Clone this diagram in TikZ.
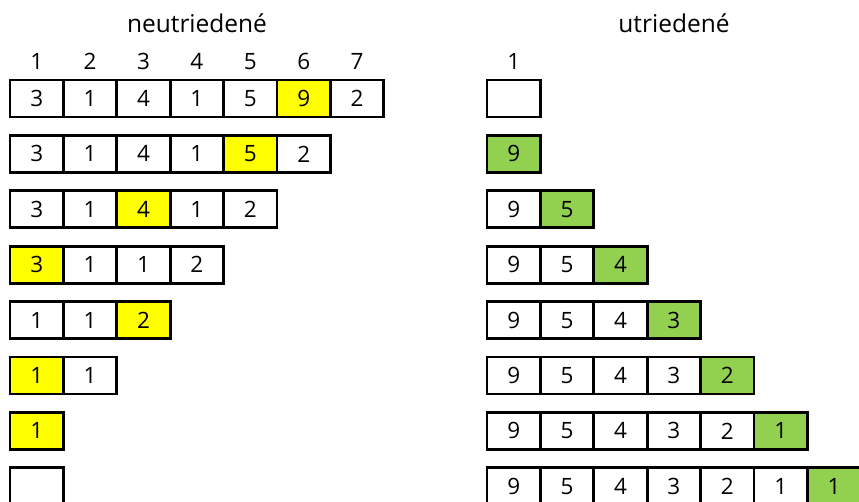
\documentclass[tikz,border=0pt]{standalone}
\usepackage{fontspec}
\setmainfont{Open Sans}

\definecolor{hl}{HTML}{FFFF00}
\definecolor{done}{HTML}{92D050}

\tikzset{
  cellbox/.style={line width=2.8pt},
  num/.style={font=\fontsize{22.5}{26}\selectfont, inner sep=0pt},
  title/.style={font=\fontsize{24.5}{28}\selectfont, inner sep=0pt}
}

\begin{document}
\begin{tikzpicture}[x=1pt, y=1pt]

  \useasboundingbox (0,0) rectangle (859,-502);
  \clip (0,0) rectangle (859,-502);

  \def\d{53.4};
  \def\h{37};

  %titles
  \node[title, anchor=base] (tl) at (197,-33) {neutriedené};
  \node[title, anchor=base] (tr) at (674,-33) {utriedené};

  %draw index
 \def\dx{10};
    \foreach \i/\num/\name in { 0/1/li1,1/2/li2,2/3/li3,3/4/li4,4/5/li5,5/6/li6,6/7/li7 }{
           \node[num, anchor=base] (\name) at (\i*\d + \d/2 + \dx, -70) {\num};
    }
 \def\dx{487};
 \node[num, anchor=base] (ri1) at (\d/2 + \dx, -70) {1};

  %unsorted
 \def\dy{-80};
 \def\dx{10};
    \foreach \i/\num/\col/\name in { 0/3/white/a1,1/1/white/a2,2/4/white/a3,3/1/white/a4,4/5/white/a5,5/9/hl/a6,6/2/white/a7 }{
             \draw[cellbox, fill=\col] (\i*\d + \dx, \dy) rectangle (\i*\d + \d + \dx, \dy - \h);
         \node[num] (\name) at (\i*\d + \d/2 + \dx, \dy - \h/2) {\num};
    }

 \def\dy{-135.4};
    \foreach \i/\num/\col/\name in { 0/3/white/b1,1/1/white/b2,2/4/white/b3,3/1/white/b4,4/5/hl/b5,5/2/white/b6 }{
             \draw[cellbox, fill=\col] (\i*\d + \dx, \dy) rectangle (\i*\d + \d + \dx, \dy - \h);
         \node[num] (\name) at (\i*\d + \d/2 + \dx, \dy - \h/2) {\num};
    }

 \def\dy{-190.8};
    \foreach \i/\num/\col/\name in { 0/3/white/c1,1/1/white/c2,2/4/hl/c3,3/1/white/c4,4/2/white/c5 }{
             \draw[cellbox, fill=\col] (\i*\d + \dx, \dy) rectangle (\i*\d + \d + \dx, \dy - \h);
         \node[num] (\name) at (\i*\d + \d/2 + \dx, \dy - \h/2) {\num};
    }

 \def\dy{-246.2};
    \foreach \i/\num/\col/\name in { 0/3/hl/d1,1/1/white/d2,2/1/white/d3,3/2/white/d4 }{
             \draw[cellbox, fill=\col] (\i*\d + \dx, \dy) rectangle (\i*\d + \d + \dx, \dy - \h);
         \node[num] (\name) at (\i*\d + \d/2 + \dx, \dy - \h/2) {\num};
    }

 \def\dy{-301.6};
    \foreach \i/\num/\col/\name in { 0/1/white/e1,1/1/white/e2,2/2/hl/e3 }{
             \draw[cellbox, fill=\col] (\i*\d + \dx, \dy) rectangle (\i*\d + \d + \dx, \dy - \h);
         \node[num] (\name) at (\i*\d + \d/2 + \dx, \dy - \h/2) {\num};
    }

 \def\dy{-357};
    \foreach \i/\num/\col/\name in { 0/1/hl/f1,1/1/white/f2 }{
             \draw[cellbox, fill=\col] (\i*\d + \dx, \dy) rectangle (\i*\d + \d + \dx, \dy - \h);
         \node[num] (\name) at (\i*\d + \d/2 + \dx, \dy - \h/2) {\num};
    }

 \def\dy{-412.4};
    \foreach \i/\num/\col/\name in { 0/1/hl/g1 }{
             \draw[cellbox, fill=\col] (\i*\d + \dx, \dy) rectangle (\i*\d + \d + \dx, \dy - \h);
         \node[num] (\name) at (\i*\d + \d/2 + \dx, \dy - \h/2) {\num};
    }

 \def\dy{-467.8};
    \foreach \i/\num/\col/\name in { 0//white/h1 }{
             \draw[cellbox, fill=\col] (\i*\d + \dx, \dy) rectangle (\i*\d + \d + \dx, \dy - \h);
         \node[num] (\name) at (\i*\d + \d/2 + \dx, \dy - \h/2) {\num};
    }

  %sorted
 \def\dy{-80};
 \def\dx{487};
    \foreach \i/\num/\col/\name in { 0//white/p1 }{
             \draw[cellbox, fill=\col] (\i*\d + \dx, \dy) rectangle (\i*\d + \d + \dx, \dy - \h);
         \node[num] (\name) at (\i*\d + \d/2 + \dx, \dy - \h/2) {\num};
    }

 \def\dy{-135.4};
    \foreach \i/\num/\col/\name in { 0/9/done/q1 }{
             \draw[cellbox, fill=\col] (\i*\d + \dx, \dy) rectangle (\i*\d + \d + \dx, \dy - \h);
         \node[num] (\name) at (\i*\d + \d/2 + \dx, \dy - \h/2) {\num};
    }

 \def\dy{-190.8};
    \foreach \i/\num/\col/\name in { 0/9/white/r1,1/5/done/r2 }{
             \draw[cellbox, fill=\col] (\i*\d + \dx, \dy) rectangle (\i*\d + \d + \dx, \dy - \h);
         \node[num] (\name) at (\i*\d + \d/2 + \dx, \dy - \h/2) {\num};
    }

 \def\dy{-246.2};
    \foreach \i/\num/\col/\name in { 0/9/white/s1,1/5/white/s2,2/4/done/s3 }{
             \draw[cellbox, fill=\col] (\i*\d + \dx, \dy) rectangle (\i*\d + \d + \dx, \dy - \h);
         \node[num] (\name) at (\i*\d + \d/2 + \dx, \dy - \h/2) {\num};
    }

 \def\dy{-301.6};
    \foreach \i/\num/\col/\name in { 0/9/white/t1,1/5/white/t2,2/4/white/t3,3/3/done/t4 }{
             \draw[cellbox, fill=\col] (\i*\d + \dx, \dy) rectangle (\i*\d + \d + \dx, \dy - \h);
         \node[num] (\name) at (\i*\d + \d/2 + \dx, \dy - \h/2) {\num};
    }

 \def\dy{-357};
    \foreach \i/\num/\col/\name in { 0/9/white/u1,1/5/white/u2,2/4/white/u3,3/3/white/u4,4/2/done/u5 }{
             \draw[cellbox, fill=\col] (\i*\d + \dx, \dy) rectangle (\i*\d + \d + \dx, \dy - \h);
         \node[num] (\name) at (\i*\d + \d/2 + \dx, \dy - \h/2) {\num};
    }

 \def\dy{-412.4};
    \foreach \i/\num/\col/\name in { 0/9/white/v1,1/5/white/v2,2/4/white/v3,3/3/white/v4,4/2/white/v5,5/1/done/v6 }{
             \draw[cellbox, fill=\col] (\i*\d + \dx, \dy) rectangle (\i*\d + \d + \dx, \dy - \h);
         \node[num] (\name) at (\i*\d + \d/2 + \dx, \dy - \h/2) {\num};
    }

 \def\dy{-467.8};
    \foreach \i/\num/\col/\name in { 0/9/white/w1,1/5/white/w2,2/4/white/w3,3/3/white/w4,4/2/white/w5,5/1/white/w6,6/1/done/w7 }{
             \draw[cellbox, fill=\col] (\i*\d + \dx, \dy) rectangle (\i*\d + \d + \dx, \dy - \h);
         \node[num] (\name) at (\i*\d + \d/2 + \dx, \dy - \h/2) {\num};
    }

\end{tikzpicture}
\end{document}
